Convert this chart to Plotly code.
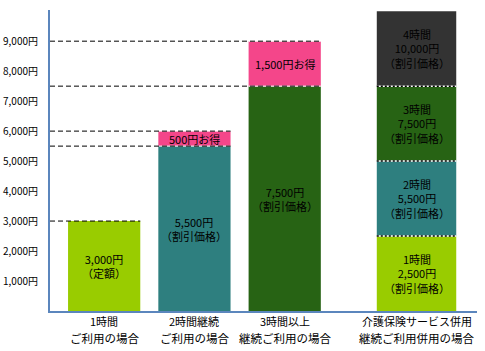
import plotly.graph_objects as go

# ---- data ----
bar_x = [0, 1, 2]
base_prices = [3000, 5500, 7500]
base_labels = ["3,000円<br>（定額）", "5,500円<br>（割引価格）", "7,500円<br>（割引価格）"]
base_colors = ["#99CC00", "#2E7F7F", "#276314"]
saving_x = [1, 2]
savings = [500, 1500]
saving_labels = ["500円お得", "1,500円お得"]

combo_x = 3.46
combo_steps = [2500, 2500, 2500, 2500]
combo_labels = ["1時間<br>2,500円<br>（割引価格）", "2時間<br>5,500円<br>（割引価格）",
                "3時間<br>7,500円<br>（割引価格）", "4時間<br>10,000円<br>（割引価格）"]
combo_colors = ["#99CC00", "#2E7F7F", "#276314", "#333333"]

cat_x = [0, 1, 2, 3.46]
cat_line1 = ["1時間", "2時間継続", "3時間以上", "介護保険サービス併用"]
cat_line2 = ["ご利用の場合", "ご利用の場合", "継続ご利用の場合", "継続ご利用併用の場合"]

y_ticks = [1000, 2000, 3000, 4000, 5000, 6000, 7000, 8000, 9000]
y_tick_text = ["1,000円", "2,000円", "3,000円", "4,000円", "5,000円",
               "6,000円", "7,000円", "8,000円", "9,000円"]

FONT = "Noto Sans CJK JP"
W1, W4 = 0.8, 0.88
X_LEFT = -0.6

fig = go.Figure()

fig.add_trace(go.Bar(x=bar_x, y=base_prices, base=[0]*3, width=W1,
                     marker=dict(color=base_colors, line=dict(width=0)),
                     hoverinfo="skip"))
fig.add_trace(go.Bar(x=saving_x, y=savings, base=[base_prices[i] for i in saving_x], width=W1,
                     marker=dict(color="#F4468A", line=dict(width=0)),
                     hoverinfo="skip"))
bases4 = [sum(combo_steps[:i]) for i in range(len(combo_steps))]
fig.add_trace(go.Bar(x=[combo_x]*4, y=combo_steps, base=bases4, width=W4,
                     marker=dict(color=combo_colors, line=dict(width=0)),
                     hoverinfo="skip"))

annots = []
tf = dict(family=FONT, size=11, color="#000000")
for x, v, t in zip(bar_x, base_prices, base_labels):
    annots.append(dict(x=x, y=v / 2, text=t, showarrow=False, font=tf, xref="x", yref="y"))
for x, v, t in zip(saving_x, savings, saving_labels):
    b = base_prices[x]
    annots.append(dict(x=x, y=b + v / 2, text=t, showarrow=False, font=tf, xref="x", yref="y"))
for b, v, t in zip(bases4, combo_steps, combo_labels):
    annots.append(dict(x=combo_x, y=b + v / 2, text=t, showarrow=False, font=tf, xref="x", yref="y"))

for x, l1, l2 in zip(cat_x, cat_line1, cat_line2):
    annots.append(dict(x=x, y=0, xref="x", yref="paper", yanchor="middle", yshift=-10,
                       text=l1, showarrow=False, font=dict(family=FONT, size=11, color="#000")))
    annots.append(dict(x=x, y=0, xref="x", yref="paper", yanchor="middle", yshift=-27,
                       text=l2, showarrow=False, font=dict(family=FONT, size=11.5, color="#000")))

shapes = []
def dashed(y, x1, over=None, dash="5px,3px"):
    if over is not None:
        shapes.append(dict(type="line", xref="x", yref="y", x0=over[0], x1=over[1], y0=y, y1=y,
                           line=dict(color="white", width=1)))
    shapes.append(dict(type="line", xref="x", yref="y", x0=X_LEFT, x1=x1, y0=y, y1=y,
                       line=dict(color="black", width=1, dash=dash)))

dashed(base_prices[0], bar_x[0] + W1 / 2)
for x, v in zip(saving_x, savings):
    b = base_prices[x]
    edges = (x - W1 / 2, x + W1 / 2)
    dashed(b, x + W1 / 2, over=edges)
    dashed(b + v, x + W1 / 2, over=edges)

for b in bases4[1:]:
    shapes.append(dict(type="line", xref="x", yref="y", x0=combo_x - W4 / 2, x1=combo_x + W4 / 2,
                       y0=b, y1=b, line=dict(color="white", width=1.5)))
    shapes.append(dict(type="line", xref="x", yref="y", x0=combo_x - W4 / 2, x1=combo_x + W4 / 2,
                       y0=b, y1=b, line=dict(color="black", width=1.5, dash="2px,2px")))

fig.update_layout(
    width=485, height=351,
    margin=dict(l=50, r=8, t=10, b=40, autoexpand=False),
    paper_bgcolor="white", plot_bgcolor="white",
    showlegend=False, barmode="overlay",
    annotations=annots, shapes=shapes,
    font=dict(family=FONT, size=11, color="#000"),
)
fig.update_xaxes(range=[X_LEFT, 4.13], showticklabels=False, showgrid=False, zeroline=False,
                 showline=True, linecolor="#5B86BD", linewidth=2, ticks="", automargin=False)
fig.update_yaxes(range=[0, 10040], tickmode="array", tickvals=y_ticks, ticktext=y_tick_text,
                 showgrid=False, zeroline=False, showline=True, linecolor="#5B86BD", linewidth=2,
                 ticks="", ticklabelstandoff=8, automargin=False,
                 tickfont=dict(family=FONT, size=10, color="#000"))

fig.write_html("out.html")
